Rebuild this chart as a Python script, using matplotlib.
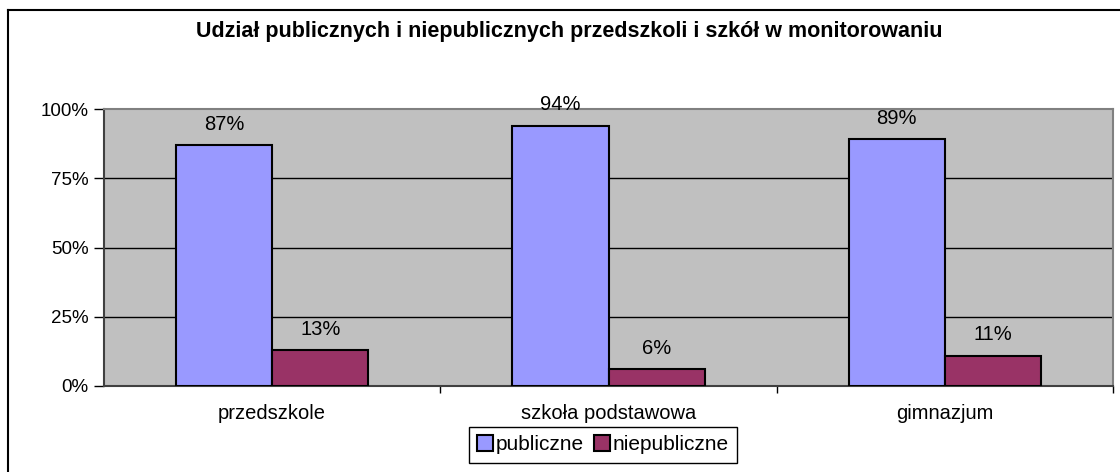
import matplotlib.pyplot as plt
import numpy as np
from matplotlib.lines import Line2D
from matplotlib.patches import Patch

plt.rcParams['font.family'] = ['Liberation Sans', 'DejaVu Sans']

# Dane do wykresu
kategorie = ['przedszkole', 'szkoła podstawowa', 'gimnazjum']
publiczne = [87, 94, 89]
niepubliczne = [13, 6, 11]
tytul = 'Udział publicznych i niepublicznych przedszkoli i szkół w monitorowaniu'

fig = plt.figure(figsize=(11.2, 4.72), dpi=100)
ax = fig.add_axes([104 / 1120, 1 - 386 / 472, 1009 / 1120, 277 / 472])

x = np.arange(len(kategorie))
w = 1 / 3.5
b1 = ax.bar(x - w / 2, publiczne, w, color='#9999FF', edgecolor='black', linewidth=1.5, zorder=3)
b2 = ax.bar(x + w / 2, niepubliczne, w, color='#993366', edgecolor='black', linewidth=1.5, zorder=3)

# Etykiety wartości nad słupkami
for bars, vals in ((b1, publiczne), (b2, niepubliczne)):
    for rect, v in zip(bars, vals):
        ax.annotate(f'{v}%', (rect.get_x() + rect.get_width() / 2, v),
                    xytext=(0, 15), textcoords='offset points',
                    ha='center', va='center', fontsize=14.5, zorder=4)

ax.set_facecolor('#C0C0C0')
ax.set_xlim(-0.5, 2.5)
ax.set_ylim(0, 100)
ax.set_yticks([0, 25, 50, 75, 100])
ax.set_yticklabels(['0%', '25%', '50%', '75%', '100%'], fontsize=13.5)
ax.set_xticks(x)
ax.set_xticklabels(kategorie, fontsize=14.5)
ax.tick_params(axis='x', length=0, pad=13)
ax.tick_params(axis='y', length=7, width=1, direction='out', pad=4)
ax.set_xticks([0.5, 1.5, 2.5], minor=True)
ax.tick_params(axis='x', which='minor', length=5, width=1, direction='out')

# Linie siatki
for yv in (25, 50, 75):
    ax.axhline(yv, color='black', linewidth=1, zorder=1)

for s in ('top', 'right'):
    ax.spines[s].set_color('#808080')
    ax.spines[s].set_linewidth(1.5)
for s in ('left', 'bottom'):
    ax.spines[s].set_color('#404040')
    ax.spines[s].set_linewidth(1.5)

fig.text(569 / 1120, 1 - 31 / 472, tytul, ha='center', va='center',
         fontsize=15.5, fontweight='bold')

handles = [Patch(facecolor='#9999FF', edgecolor='black', linewidth=1.5),
           Patch(facecolor='#993366', edgecolor='black', linewidth=1.5)]
leg = fig.legend(handles, ['publiczne', 'niepubliczne'], loc='upper center',
                 bbox_to_anchor=(603 / 1120, 1 - 427 / 472), ncol=2,
                 fontsize=15, frameon=True, fancybox=False, framealpha=1,
                 edgecolor='black', handlelength=0.75, handleheight=0.75,
                 handletextpad=0.15, columnspacing=0.5, borderpad=0.4,
                 borderaxespad=0)
leg.get_frame().set_linewidth(1)

# Ramka obszaru wykresu
fig.add_artist(Line2D([8 / 1120, 8 / 1120], [0, 1 - 10 / 472], color='black', linewidth=1.5))
fig.add_artist(Line2D([8 / 1120, 1], [1 - 10 / 472, 1 - 10 / 472], color='black', linewidth=1.5))

fig.savefig('out.png', dpi=100)
